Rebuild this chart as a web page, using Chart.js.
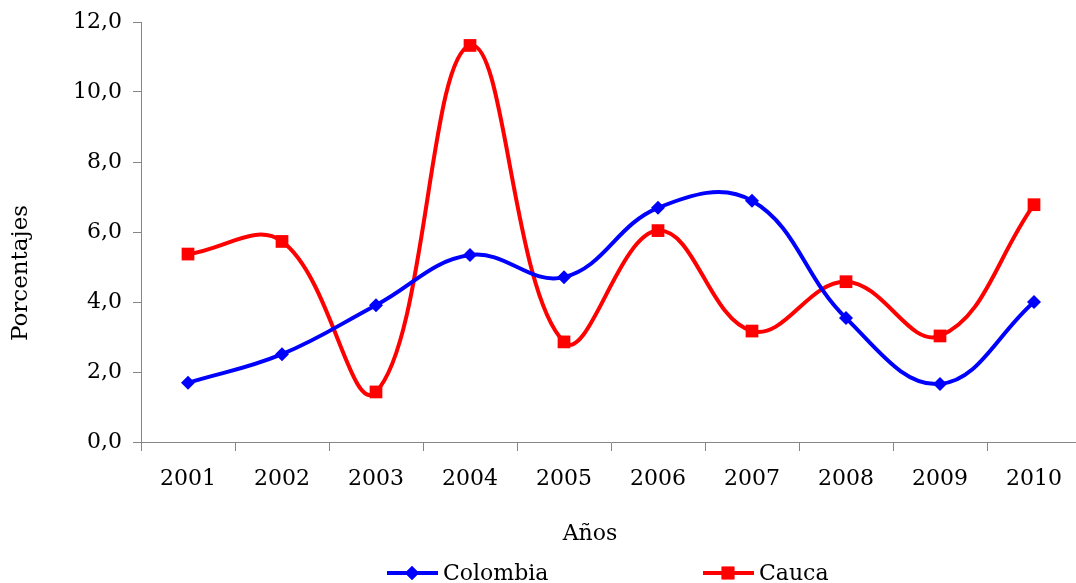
<!DOCTYPE html>
<html>
<head>
<meta charset="utf-8">
<script src="https://cdn.jsdelivr.net/npm/chart.js@4/dist/chart.umd.min.js"></script>
<style>
  html, body { margin: 0; padding: 0; background: #fff; overflow: hidden; }
  #wrap { width: 1076px; height: 583px; position: relative; overflow: hidden; }
</style>
</head>
<body>
<div id="wrap"><canvas id="chart" width="1090" height="583"></canvas></div>
<script>
// data
const years = ['2001', '2002', '2003', '2004', '2005', '2006', '2007', '2008', '2009', '2010'];
const colombia = [1.69, 2.51, 3.91, 5.34, 4.71, 6.69, 6.89, 3.54, 1.66, 4.0];
const cauca = [5.37, 5.73, 1.43, 11.33, 2.86, 6.04, 3.17, 4.58, 3.03, 6.78];
const yMin = 0, yMax = 12, yStep = 2;
const xTitle = 'Años';
const yTitle = 'Porcentajes';

const serif = '"DejaVu Serif", serif';
const axisGray = '#868686';

// axis titles and an Excel style legend (short line with the marker in the middle)
const extras = {
    id: 'extras',
    afterDraw(chart) {
        const ctx = chart.ctx;
        const sets = chart.data.datasets;
        ctx.save();
        ctx.fillStyle = '#000';
        ctx.textBaseline = 'middle';
        ctx.textAlign = 'center';
        ctx.font = '22px ' + serif;
        ctx.fillText(xTitle, 590, 534);
        ctx.save();
        ctx.translate(21, 273);
        ctx.rotate(-Math.PI / 2);
        ctx.font = '23px ' + serif;
        ctx.fillText(yTitle, 0, 0);
        ctx.restore();

        const pitch = 316;
        const cy = 573;
        const startX = 387;
        sets.forEach((ds, i) => {
            const x0 = startX + i * pitch;
            ctx.strokeStyle = ds.borderColor;
            ctx.lineWidth = 4;
            ctx.beginPath();
            ctx.moveTo(x0, cy);
            ctx.lineTo(x0 + 51, cy);
            ctx.stroke();
            ctx.fillStyle = ds.pointBackgroundColor;
            Chart.helpers.drawPoint(ctx, { pointStyle: ds.pointStyle, radius: ds.pointRadius, borderWidth: 0 }, x0 + 25, cy);
            ctx.fill();
            ctx.fillStyle = '#000';
            ctx.font = '22px ' + serif;
            ctx.textAlign = 'left';
            ctx.fillText(ds.label, x0 + 56, cy + 1);
        });
        ctx.restore();
    }
};

new Chart(document.getElementById('chart').getContext('2d'), {
    type: 'line',
    data: {
        labels: years,
        datasets: [{
            label: 'Colombia',
            data: colombia,
            borderColor: '#0000FF',
            backgroundColor: '#0000FF',
            pointBackgroundColor: '#0000FF',
            pointBorderColor: '#0000FF',
            pointStyle: 'rectRot',
            pointRadius: 7,
            pointBorderWidth: 0,
            borderWidth: 4,
            tension: 0.4,
            fill: false
        }, {
            label: 'Cauca',
            data: cauca,
            borderColor: '#FF0000',
            backgroundColor: '#FF0000',
            pointBackgroundColor: '#FF0000',
            pointBorderColor: '#FF0000',
            pointStyle: 'rect',
            pointRadius: 9,
            pointBorderWidth: 0,
            borderWidth: 4,
            tension: 0.4,
            fill: false
        }]
    },
    options: {
        responsive: false,
        animation: false,
        layout: { padding: { left: 0, right: 4, top: 22, bottom: 37 } },
        plugins: { legend: { display: false }, tooltip: { enabled: false } },
        scales: {
            x: {
                offset: true,
                grid: { offset: true, drawOnChartArea: false, color: axisGray, tickLength: 9 },
                border: { color: axisGray, width: 1 },
                ticks: { color: '#000', font: { family: serif, size: 22 }, padding: 15, maxRotation: 0 },
                afterFit(scale) {
                    scale.height = 104;
                    scale.paddingLeft = 0;
                    scale.paddingRight = 0;
                }
            },
            y: {
                min: yMin,
                max: yMax,
                ticks: {
                    stepSize: yStep,
                    color: '#000',
                    font: { family: serif, size: 22 },
                    padding: 11,
                    callback: v => v.toFixed(1).replace('.', ',')
                },
                grid: { drawOnChartArea: false, color: axisGray, tickLength: 8 },
                border: { color: axisGray, width: 1 },
                afterFit(scale) {
                    scale.width = 141;
                    scale.paddingTop = 0;
                    scale.paddingBottom = 0;
                }
            }
        }
    },
    plugins: [extras]
});
</script>
</body>
</html>
